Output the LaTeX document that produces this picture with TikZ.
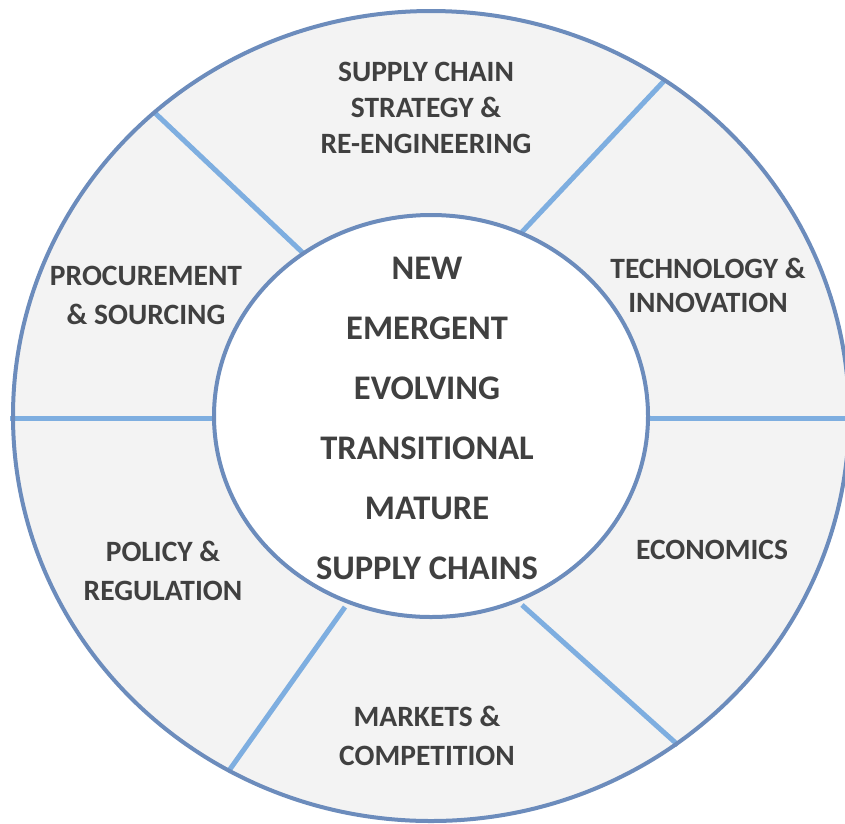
\documentclass[tikz,border=0pt]{standalone}
\usepackage{fontspec}
\setmainfont{Carlito}
\definecolor{ringfill}{HTML}{F3F3F3}
\definecolor{rimblue}{HTML}{6C8CBC}
\definecolor{divblue}{HTML}{7EAEE0}
\definecolor{txt}{HTML}{404040}
\begin{document}
\begin{tikzpicture}[x=1pt,y=-1pt,
  rim/.style={draw=rimblue,line width=4pt},
  divider/.style={draw=divblue,line width=5pt},
  ringlabel/.style={text=txt,font=\bfseries\fontsize{29.5}{39}\selectfont,align=center,inner sep=0pt},
  corelabel/.style={text=txt,font=\bfseries\fontsize{34.5}{60}\selectfont,align=center,inner sep=0pt}]
\useasboundingbox (0,0) rectangle (845,823);
\clip (0,0) rectangle (845,823);
\fill[white] (0,0) rectangle (845,823);
% ring
\fill[ringfill] (431,416) ellipse [x radius=418, y radius=405];
% dividers
\coordinate (o1) at (155,113); \coordinate (i1) at (303,253);
\coordinate (o2) at (664,81);  \coordinate (i2) at (522,232);
\coordinate (o3) at (678,745); \coordinate (i3) at (522,605);
\coordinate (o4) at (228,772); \coordinate (i4) at (345,607);
\coordinate (o5) at (10,418);  \coordinate (i5) at (216,418);
\coordinate (o6) at (850,418); \coordinate (i6) at (646,418);
\foreach \k in {1,...,6} \draw[divider] (o\k) -- (i\k);
\draw[rim] (431,416) ellipse [x radius=418, y radius=405];
% core
\filldraw[fill=white,rim] (431,416) ellipse [x radius=217, y radius=201];
% labels
\node[ringlabel,font=\bfseries\fontsize{29.5}{36}\selectfont] (strat) at (426,108) {SUPPLY CHAIN\\STRATEGY \&\\RE-ENGINEERING};
\node[ringlabel,font=\bfseries\fontsize{29.5}{34}\selectfont] (tech) at (708,285) {TECHNOLOGY \&\\INNOVATION};
\node[ringlabel] (proc) at (146,295) {PROCUREMENT\\\& SOURCING};
\node[ringlabel] (pol) at (163,571) {POLICY \&\\REGULATION};
\node[ringlabel] (eco) at (712,550) {ECONOMICS};
\node[ringlabel] (mkt) at (427,736) {MARKETS \&\\COMPETITION};
\node[corelabel] (core) at (427,418) {NEW\\EMERGENT\\EVOLVING\\TRANSITIONAL\\MATURE\\SUPPLY CHAINS};
\end{tikzpicture}
\end{document}
